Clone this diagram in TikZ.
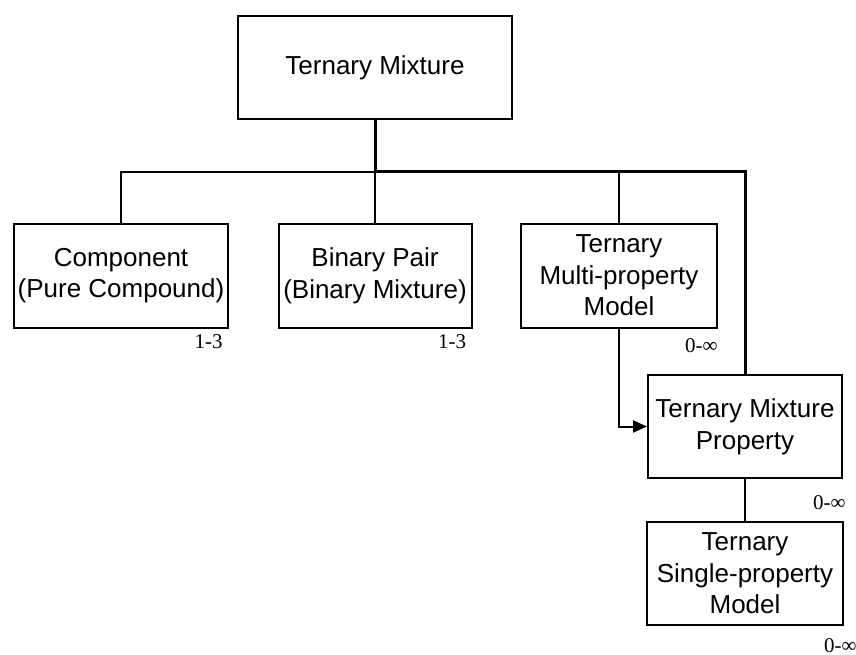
\documentclass[tikz,border=0pt]{standalone}
\usepackage{fontspec}
\setmainfont{Liberation Sans}
\newfontfamily\multfont{Liberation Serif}
\usetikzlibrary{arrows.meta,positioning}

\begin{document}
\begin{tikzpicture}[x=0.5pt, y=-0.5pt, font=\fontsize{13}{15.8}\selectfont,
  box/.style={rectangle, draw, line width=1pt, align=center, inner sep=0pt},
  mult/.style={font=\multfont\fontsize{10.5}{12}\selectfont, inner sep=0pt},
  tie/.style={line width=1pt},
  stem/.style={line width=1.5pt},
  link/.style={line width=1pt, -{Triangle[length=7pt,width=6pt]}}]
  \useasboundingbox (0,0) rectangle (856,654);
  \node[box, minimum width=137pt, minimum height=51.5pt] (mix) at (375,67.5) {Ternary Mixture};
  \node[box, minimum width=107pt, minimum height=52pt] (comp) at (121,275.5) {Component\\(Pure Compound)};
  \node[box, minimum width=96.5pt, minimum height=52pt] (bin) at (375,275.5) {Binary Pair\\(Binary Mixture)};
  \node[box, minimum width=98pt, minimum height=52pt] (multi) at (619,275.5) {Ternary\\Multi-property\\Model};
  \node[box, minimum width=97pt, minimum height=51.5pt] (prop) at (745,426.5) {Ternary Mixture\\Property};
  \node[box, minimum width=98pt, minimum height=51.5pt] (single) at (745,573.5) {Ternary\\Single-property\\Model};
  % multiplicities
  \node[mult, below left=3pt and 3pt of comp.south east] (compn) {1-3};
  \node[mult, below left=3pt and 3pt of bin.south east] (binn) {1-3};
  \node[mult, below left=5pt and 0pt of multi.south east] (multin) {0-∞};
  \node[mult, below left=8pt and -1.5pt of prop.south east] (propn) {0-∞};
  \node[mult, below left=6pt and -6.5pt of single.south east] (singlen) {0-∞};
  % connectors
  \coordinate (bus) at (375,171.5);
  \draw[stem] (mix.south) -- (bus);
  \draw[tie] (comp.north) |- (bus) -- (bin.north);
  \draw[stem] (bus) -| (prop.north);
  \draw[tie] (multi.north) -- (multi.north |- bus);
  \draw[link] (multi.south) |- (prop.west);
  \draw[tie] (prop.south) -- (single.north);
\end{tikzpicture}
\end{document}
